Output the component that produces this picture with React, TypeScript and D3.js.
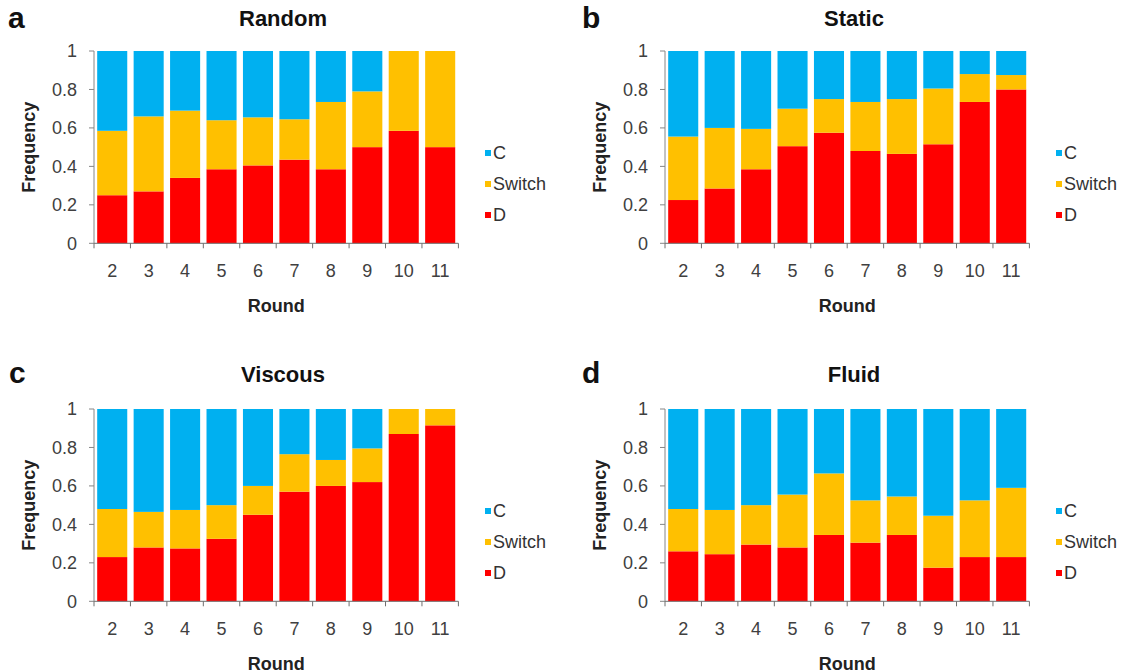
import React from 'react';
import * as d3 from 'd3';

const rounds = ['2', '3', '4', '5', '6', '7', '8', '9', '10', '11'];
const yTicks = [0, 0.2, 0.4, 0.6, 0.8, 1];
const yTickLabels = ['0', '0.2', '0.4', '0.6', '0.8', '1'];
const seriesKeys = ['D', 'Switch', 'C'];
const legendOrder = ['C', 'Switch', 'D'];

// Panel a: Random
const randomD = [0.25, 0.27, 0.34, 0.385, 0.405, 0.435, 0.385, 0.5, 0.585, 0.5];
const randomSwitch = [0.335, 0.39, 0.35, 0.255, 0.25, 0.21, 0.35, 0.29, 0.415, 0.5];
const randomC = [0.415, 0.34, 0.31, 0.36, 0.345, 0.355, 0.265, 0.21, 0, 0];

// Panel b: Static
const staticD = [0.225, 0.285, 0.385, 0.505, 0.575, 0.48, 0.465, 0.515, 0.735, 0.8];
const staticSwitch = [0.33, 0.315, 0.21, 0.195, 0.175, 0.255, 0.285, 0.29, 0.145, 0.075];
const staticC = [0.445, 0.4, 0.405, 0.3, 0.25, 0.265, 0.25, 0.195, 0.12, 0.125];

// Panel c: Viscous
const viscousD = [0.23, 0.28, 0.275, 0.325, 0.45, 0.57, 0.6, 0.62, 0.87, 0.915];
const viscousSwitch = [0.25, 0.185, 0.2, 0.175, 0.15, 0.195, 0.135, 0.175, 0.13, 0.085];
const viscousC = [0.52, 0.535, 0.525, 0.5, 0.4, 0.235, 0.265, 0.205, 0, 0];

// Panel d: Fluid
const fluidD = [0.26, 0.245, 0.295, 0.28, 0.345, 0.305, 0.345, 0.175, 0.23, 0.23];
const fluidSwitch = [0.22, 0.23, 0.205, 0.275, 0.32, 0.22, 0.2, 0.27, 0.295, 0.36];
const fluidC = [0.52, 0.525, 0.5, 0.445, 0.335, 0.475, 0.455, 0.555, 0.475, 0.41];

const colors: Record<string, string> = { C: '#00B0F0', Switch: '#FFC000', D: '#FF0000' };

const FONT = '"Liberation Sans", Arial, Helvetica, sans-serif';

type PanelProps = {
  letter: string;
  title: string;
  D: number[];
  Sw: number[];
  C: number[];
  dx: number;
  dy: number;
  letterX: number;
  letterY: number;
  titleY: number;
};

const Panel = ({ letter, title, D, Sw, C, dx, dy, letterX, letterY, titleY }: PanelProps) => {
  const left = 94;
  const right = 458.4;
  const top = 51;
  const bottom = 243.3;
  const x = d3.scaleBand<string>().domain(rounds).range([left, right]).paddingInner(0.175).paddingOuter(0.0875);
  const y = d3.scaleLinear().domain([0, 1]).range([bottom, top]);
  const rows = rounds.map((r, i) => ({ round: r, D: D[i], Switch: Sw[i], C: C[i] }));
  const stacked = d3.stack<any>().keys(seriesKeys)(rows);
  const step = x.step();
  const boundaries = d3.range(rounds.length + 1).map((i) => left + i * step);
  const axisColor = '#868686';
  const cx = (left + right) / 2;
  return (
    <g transform={`translate(${dx},${dy})`}>
      <text x={letterX - dx} y={letterY} fontSize={30} fontWeight="bold" fontFamily={FONT} fill="#111">{letter}</text>
      <text x={283} y={titleY} fontSize={22} fontWeight="bold" fontFamily={FONT} textAnchor="middle" fill="#111">{title}</text>
      {stacked.map((s) => (
        <g key={s.key} fill={colors[s.key]}>
          {s.map((d, i) => (
            <rect key={i} x={x(rounds[i])} width={x.bandwidth()} y={y(d[1])} height={Math.max(0, y(d[0]) - y(d[1]))} />
          ))}
        </g>
      ))}
      {/* y axis */}
      <line x1={left} x2={left} y1={top} y2={bottom} stroke={axisColor} strokeWidth={1} />
      {yTicks.map((t, i) => (
        <g key={t}>
          <line x1={left - 5} x2={left} y1={y(t)} y2={y(t)} stroke={axisColor} />
          <text x={77} y={y(t)} dy="0.36em" textAnchor="end" fontSize={18} fontFamily={FONT} fill="#404040">{yTickLabels[i]}</text>
        </g>
      ))}
      {/* x axis */}
      <line x1={left} x2={right} y1={bottom} y2={bottom} stroke="#6e6e6e" strokeWidth={1} />
      {boundaries.map((b, i) => (
        <line key={i} x1={b} x2={b} y1={bottom} y2={bottom + 5} stroke="#6e6e6e" />
      ))}
      {rounds.map((r) => (
        <text key={r} x={(x(r) as number) + x.bandwidth() / 2} y={277} textAnchor="middle" fontSize={18} fontFamily={FONT} fill="#404040">{r}</text>
      ))}
      <text x={cx} y={311.5} textAnchor="middle" fontSize={18} fontWeight="bold" fontFamily={FONT} fill="#222">Round</text>
      <text transform={`translate(${29},${(top + bottom) / 2}) rotate(-90)`} textAnchor="middle" dy="0.35em" fontSize={18} fontWeight="bold" fontFamily={FONT} fill="#222">Frequency</text>
      {/* legend */}
      {legendOrder.map((k, i) => (
        <g key={k} transform={`translate(485,${153 + i * 31})`}>
          <rect x={0} y={-3} width={6} height={6} fill={colors[k]} />
          <text x={8} y={0} dy="0.36em" fontSize={18} fontFamily={FONT} fill="#333">{k}</text>
        </g>
      ))}
    </g>
  );
};

export default function App() {
  return (
    <svg width={1131} height={672} style={{ position: 'absolute', left: 0, top: 0, background: '#fff' }}>
      <rect width={1131} height={672} fill="#fff" />
      <Panel letter="a" title="Random" D={randomD} Sw={randomSwitch} C={randomC} dx={0} dy={0} letterX={8} letterY={28} titleY={26} />
      <Panel letter="b" title="Static" D={staticD} Sw={staticSwitch} C={staticC} dx={571} dy={0} letterX={582} letterY={28} titleY={26} />
      <Panel letter="c" title="Viscous" D={viscousD} Sw={viscousSwitch} C={viscousC} dx={0} dy={358} letterX={9} letterY={25} titleY={24} />
      <Panel letter="d" title="Fluid" D={fluidD} Sw={fluidSwitch} C={fluidC} dx={571} dy={358} letterX={582} letterY={25} titleY={24} />
    </svg>
  );
}
